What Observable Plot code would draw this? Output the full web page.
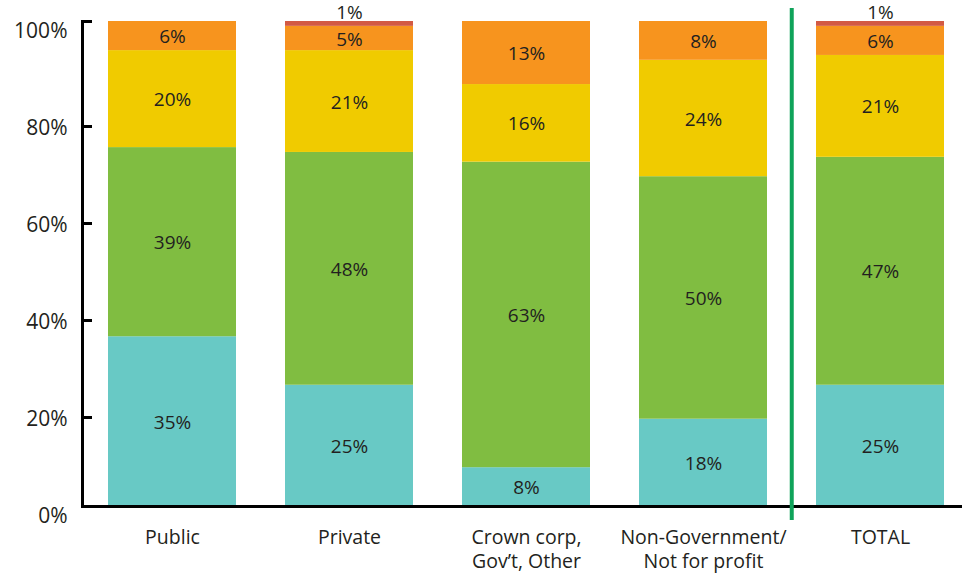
<!DOCTYPE html>
<html><head><meta charset="utf-8">
<script src="https://cdn.jsdelivr.net/npm/d3@7"></script>
<script src="https://cdn.jsdelivr.net/npm/@observablehq/plot@0.6"></script>
<style>body{margin:0;background:#fff;font-family:"Open Sans",sans-serif}</style>
</head><body><div id="chart"></div>
<script>
const categories = ["Public", "Private", "Crown corp,\nGov’t, Other", "Non-Government/\nNot for profit", "TOTAL"];
const seriesNames = ["Series 1", "Series 2", "Series 3", "Series 4", "Series 5"];
const series1 = [35, 25, 8, 18, 25];
const series2 = [39, 48, 63, 50, 47];
const series3 = [20, 21, 16, 24, 21];
const series4 = [6, 5, 13, 8, 6];
const series5 = [0, 1, 0, 0, 1];
const yTicks = [0, 20, 40, 60, 80, 100];
const colors = ["#68C9C5", "#80BD41", "#F0CB00", "#F7941E", "#D35A44"];
const separatorBefore = "TOTAL";

const seriesValues = [series1, series2, series3, series4, series5];
const data = [];
categories.forEach((c, i) => seriesNames.forEach((s, j) => data.push({category: c, series: s, value: seriesValues[j][i]})));

const ink = "#231F20";
const plot = Plot.plot({
  width: 962, height: 573,
  marginTop: 21, marginBottom: 67, marginLeft: 82, marginRight: 0,
  style: {fontFamily: '"Open Sans", sans-serif', color: ink, background: "transparent", overflow: "visible"},
  x: {domain: categories, range: [107, 945], paddingInner: 0.279, paddingOuter: 0},
  y: {domain: [0, 100]},
  color: {domain: seriesNames, range: colors},
  marks: [
    Plot.barY(data, {x: "category", y: "value", fill: "series", order: seriesNames}),
    Plot.text(data, Plot.stackY({x: "category", y: "value", z: "series", order: seriesNames,
      text: d => d.value >= 2 ? d.value + "%" : "", fontSize: 19, dy: 1, fill: ink})),
    Plot.text(data, Plot.stackY2({x: "category", y: "value", z: "series", order: seriesNames,
      text: d => d.value > 0 && d.value < 2 ? d.value + "%" : "", dy: -9, fontSize: 19, fill: ink})),
    Plot.frame({anchor: "left", stroke: "#000", strokeWidth: 3}),
    Plot.ruleY([0], {stroke: "#000", strokeWidth: 3}),
    Plot.axisY(yTicks, {tickSize: 0, tickPadding: 15, dy: 10, tickFormat: d => d + "%", fontSize: 21, fill: ink, label: null}),
    Plot.axisY(yTicks.filter(d => d > 0 && d < 100), {tickSize: -10, tickFormat: () => "", dy: 8, strokeWidth: 3, stroke: "#000", label: null}),
    Plot.axisY([yTicks[yTicks.length - 1]], {tickSize: -10, tickFormat: () => "", strokeWidth: 3, stroke: "#000", label: null}),
    Plot.axisX({tickSize: 0, tickPadding: 20, fontSize: 19.5, lineHeight: 1.25, fill: ink, label: null}),
    Plot.ruleX([separatorBefore], {dx: -88.75, stroke: "#0FA35A", strokeWidth: 4, insetTop: -13, insetBottom: -14})
  ]
});
document.getElementById("chart").appendChild(plot);
</script>
</body></html>
